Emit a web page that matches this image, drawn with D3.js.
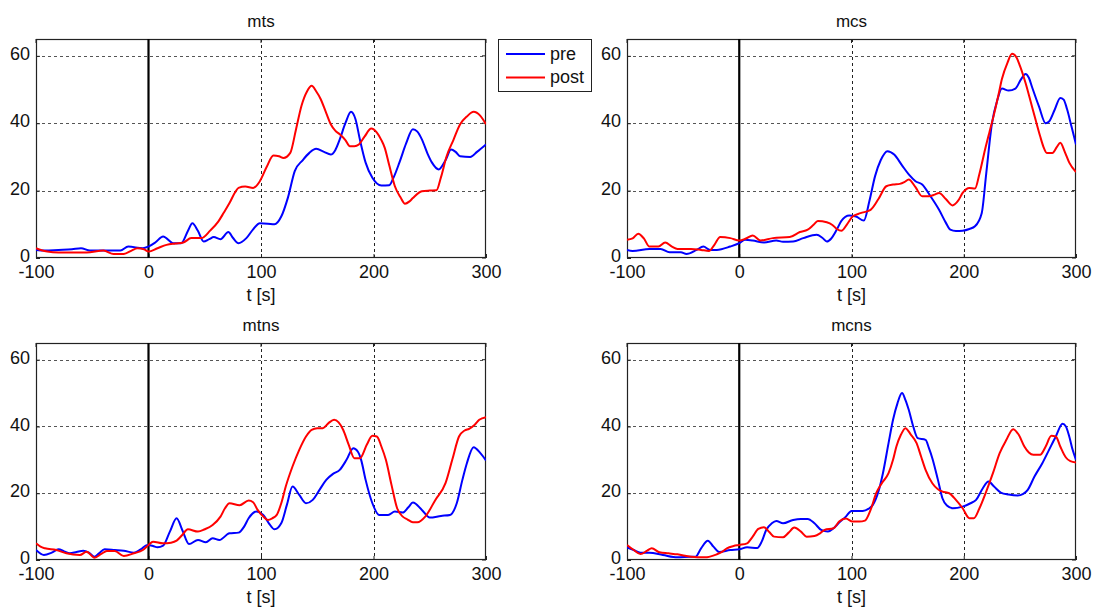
<!DOCTYPE html>
<html><head><meta charset="utf-8">
<script src="https://cdn.jsdelivr.net/npm/d3@7"></script>
<style>
body{margin:0;background:#fff;}
svg{display:block;font-family:"Liberation Sans",Arial,sans-serif;}
</style></head>
<body><svg id="c" width="1099" height="608"></svg>
<script>
// ---- data ----
const panelTitles = ["mts","mcs","mtns","mcns"];
const seriesNames = ["pre","post"];
const xTicks = [-100,0,100,200,300];
const yTicks = [0,20,40,60];
const xLabel = "t [s]";

const mtsPre = [[-100,2.4],[-92,2.2],[-80,2.4],[-68,2.6],[-60,2.9],[-52,2.2],[-40,2.2],[-25,2.2],[-18,3.4],[-5,2.9],[0,3.4],[6,4.6],[13,6.4],[22,4.4],[29,4.4],[35,8],[39,10.3],[44,8],[49,4.9],[54,5.6],[58,6.2],[64,5.6],[71,7.7],[75,6],[80,4.4],[87,5.9],[93,8.5],[99,10.3],[106,10.2],[112,10],[118,12.3],[124,18],[130,25.8],[137,29],[143,31.2],[149,32.4],[156,31.5],[162,30.7],[166,32],[170,35.2],[175,40],[180,43.4],[184,41.2],[188,35],[193,28.3],[199,23.8],[207,21.5],[214,21.6],[218,24],[223,28.3],[229,34],[235,38.2],[239,37.5],[243,35.2],[248,31],[252,28.3],[258,26.3],[264,29],[269,32.2],[273,31.5],[277,30.2],[286,30],[292,31.5],[300,33.7]];
const mtsPost = [[-100,2.9],[-95,2.3],[-90,1.9],[-80,1.6],[-65,1.6],[-55,1.6],[-40,2.2],[-31,1.2],[-22,1.2],[-15,2.2],[-10,2.9],[-4,2.6],[0,1.9],[8,2.9],[16,3.9],[24,4.3],[31,4.6],[38,5.9],[47,5.9],[55,8.2],[62,10.8],[67,13.5],[72,16.3],[77,19.5],[80,20.8],[86,21.2],[93,20.8],[99,22.8],[105,27],[111,30.4],[116,30.2],[120,29.7],[126,31.2],[131,38],[136,45.2],[141,49.5],[145,51.1],[149,49.5],[153,47.2],[158,43],[162,39.7],[166,37.8],[170,36.7],[175,35],[179,33.2],[183,33.2],[187,33.7],[192,36],[198,38.4],[203,37.2],[207,35],[210,32.7],[214,27.5],[219,21.3],[224,18],[228,16.1],[232,16.8],[235,17.8],[243,19.8],[250,20],[256,20.1],[260,24],[265,30.2],[271,35],[277,39.7],[283,42],[289,43.4],[295,42.2],[300,39.7]];
const mcsPre = [[-100,2.4],[-95,2.1],[-80,2.7],[-70,2.7],[-62,1.7],[-52,1.7],[-47,1.2],[-38,2.4],[-32,3.4],[-26,2.4],[-20,2.4],[-8,3.4],[0,4.4],[5,5.4],[12,5.2],[22,4.6],[33,5.2],[39,4.8],[48,4.9],[57,5.9],[69,6.9],[74,6],[78,4.9],[82,5.8],[87,8.5],[91,11],[98,12.6],[104,12.3],[111,11.1],[116,17],[121,24.3],[126,29],[132,31.7],[138,30.7],[145,27.5],[151,24.8],[157,22.8],[163,21.8],[170,18.5],[178,14.3],[184,10.5],[188,8.4],[193,8],[199,8.1],[205,8.6],[210,9.4],[216,13.3],[220,25],[225,39.7],[230,47],[234,50.3],[240,49.7],[246,50.3],[251,53],[255,54.6],[258,53.5],[261,50.6],[267,45],[273,40],[276,40.5],[281,44],[286,47.5],[289,47],[292,44.2],[296,39],[300,33.7]];
const mcsPost = [[-100,5.4],[-95,5.8],[-90,7.2],[-85,5.8],[-80,3.4],[-72,3.4],[-66,4.6],[-60,3.4],[-55,2.7],[-43,2.7],[-34,2.4],[-27,2.1],[-22,4],[-17,6.2],[-8,5.9],[0,5.2],[6,5.8],[12,6.7],[19,5.2],[30,5.9],[45,6.2],[54,7.7],[61,8.4],[66,9.8],[70,11],[78,10.6],[83,9.8],[87,8.6],[91,8.1],[96,10],[101,12.3],[108,13.3],[117,14.3],[124,17.5],[131,21.3],[137,21.8],[143,22],[147,22.5],[151,23.3],[157,21],[163,18.3],[169,18.3],[174,18.8],[178,19.3],[184,17.5],[190,15.6],[195,17],[199,19.3],[205,20.8],[210,20.6],[214,25],[219,32.2],[223,37.5],[227,42.7],[231,48.5],[234,53.1],[239,58],[243,60.6],[247,59.5],[250,57.1],[255,52],[259,47.2],[264,41],[268,36.2],[271,33],[274,31.2],[279,31.2],[283,33],[286,34.2],[290,31.5],[294,28.3],[300,25.5]];
const mtnsPre = [[-100,3],[-93,1.5],[-86,2.2],[-80,3.2],[-75,2.6],[-70,2],[-64,2.4],[-58,2.8],[-53,2.2],[-48,1],[-44,2],[-39,3.2],[-30,3],[-22,2.8],[-13,2.2],[-7,3.2],[-1,4.5],[4,4.2],[8,3.8],[13,4.3],[19,8.5],[25,12.5],[30,9],[36,4.8],[44,6],[51,5.3],[57,6.5],[63,6],[72,8],[80,8.2],[85,10],[89,12.5],[96,14.5],[102,13.5],[107,11],[112,9.2],[118,11],[123,16.5],[128,22],[134,19.5],[140,17],[146,18],[152,21],[158,24],[164,25.8],[170,27],[176,30],[182,33.5],[186,32.5],[189,30],[193,24],[199,17],[205,13.5],[213,13.5],[219,14.5],[226,14.2],[231,15.8],[235,17.2],[243,15],[250,12.7],[260,13.2],[268,13.5],[274,17],[279,24],[283,29],[289,33.8],[295,32],[300,29.8]];
const mtnsPost = [[-100,5],[-96,4],[-92,3.5],[-82,3],[-73,2],[-61,1.5],[-55,2.5],[-48,0.7],[-42,1.8],[-37,2.7],[-30,2.7],[-22,1.2],[-13,2],[-5,3],[0,4.5],[4,5.5],[13,5],[20,5.2],[25,5.8],[30,7.5],[35,9.2],[44,8.5],[50,9.2],[57,10.5],[64,13],[68,15.5],[72,17],[81,16.4],[89,17.8],[93,17.3],[97,15],[102,13],[106,12],[110,12.5],[114,13.5],[118,17],[122,22],[128,28],[134,33],[140,37],[145,39],[150,39.5],[155,39.5],[160,41],[165,42],[169,41.2],[173,39],[178,34.5],[183,30.5],[188,30.5],[194,34.5],[199,37.2],[203,37],[207,34],[211,30],[216,22.5],[221,15.5],[226,13],[230,12.2],[235,11.3],[239,11.3],[246,13],[255,18],[264,23],[270,30],[276,37],[281,38.8],[285,39.3],[290,40.5],[294,42],[300,42.8]];
const mcnsPre = [[-100,3.8],[-94,3],[-88,2.2],[-80,2.2],[-68,1.5],[-55,0.8],[-43,1],[-39,1],[-34,3.5],[-28,5.8],[-23,4],[-18,2.4],[-8,3],[0,3.2],[7,3.8],[16,3.6],[20,5.5],[24,9],[29,11],[33,11.7],[39,11],[48,12],[55,12.3],[61,12.3],[67,11],[73,9],[79,8.5],[84,9.5],[89,11.2],[95,13],[100,14.7],[110,14.7],[115,15.3],[119,16.5],[124,20.5],[128,26],[133,35],[137,42],[141,47],[145,50],[148,48],[151,45],[155,40],[159,36.5],[166,36],[169,33.5],[172,30.5],[177,24],[181,18.5],[185,16.3],[190,15.5],[199,16],[206,17],[211,18],[217,21.5],[222,23.5],[227,22],[233,20.2],[240,19.6],[248,19.3],[253,19.8],[257,21],[263,25],[270,29],[276,33],[282,37],[288,40.8],[291,40],[294,37],[297,33],[300,30]];
const mcnsPost = [[-100,4.5],[-94,3],[-88,1.8],[-82,2.8],[-78,3.5],[-71,2.3],[-63,2],[-55,1.7],[-43,1],[-31,0.8],[-20,1.7],[-15,2.5],[-11,3.5],[-5,4.2],[0,4.5],[7,5],[12,7],[17,9.3],[22,9.8],[27,8.3],[31,7],[39,6.8],[44,8.2],[49,9.7],[55,8.5],[60,7],[67,7.2],[72,8],[76,9],[84,9.5],[89,11.5],[95,12.4],[101,11.5],[107,11.5],[112,11.8],[117,15],[122,20],[127,23],[133,26],[137,30],[140,34],[144,37.5],[148,39.5],[153,37.5],[158,35],[162,31],[166,27],[172,23],[177,21.2],[181,20.5],[187,20],[193,18],[199,15.5],[205,12.5],[209,12.5],[214,15.5],[220,20.5],[226,26],[232,32],[238,36],[244,39.2],[249,37.5],[254,34],[258,32.2],[262,31.5],[268,31.5],[273,34],[278,37.2],[282,37],[286,34],[291,30.7],[295,29.6],[300,29.2]];

const panelData = [[mtsPre,mtsPost],[mcsPre,mcsPost],[mtnsPre,mtnsPost],[mcnsPre,mcnsPost]];
const seriesColors = ["#0000ff","#ff0000"];

// ---- layout ----
const svg = d3.select("#c");
const FONT = "'Liberation Sans',Arial,sans-serif";
const panels = [
  {x0:36, x1:486, y0:39, y1:258},
  {x0:627, x1:1076, y0:39, y1:258},
  {x0:36, x1:486, y0:343, y1:560},
  {x0:627, x1:1076, y0:343, y1:560}
];

panels.forEach((p,i)=>{
  const x = d3.scaleLinear().domain([-100,300]).range([p.x0,p.x1]);
  const y = d3.scaleLinear().domain([0,65]).range([p.y1,p.y0]);
  const g = svg.append("g");
  const clipId = "clip"+i;
  svg.append("clipPath").attr("id",clipId).append("rect")
    .attr("x",p.x0).attr("y",p.y0).attr("width",p.x1-p.x0).attr("height",p.y1-p.y0);

  // grid
  g.selectAll(".hg").data(yTicks.filter(t=>t>0)).join("line")
    .attr("x1",p.x0).attr("x2",p.x1).attr("y1",d=>Math.round(y(d))+0.5).attr("y2",d=>Math.round(y(d))+0.5)
    .attr("stroke","#555").attr("stroke-width",1).attr("stroke-dasharray","3,3");
  g.selectAll(".vg").data(xTicks.filter(t=>t>0 && t<300)).join("line")
    .attr("y1",p.y0).attr("y2",p.y1).attr("x1",d=>Math.round(x(d))+0.5).attr("x2",d=>Math.round(x(d))+0.5)
    .attr("stroke","#222").attr("stroke-width",1).attr("stroke-dasharray","3,3");

  // axes (inward ticks), plain hyphen minus like the reference
  const fmt = d => String(d);
  const ax = d3.axisBottom(x).tickValues(xTicks).tickSize(-4).tickFormat(fmt);
  const ay = d3.axisLeft(y).tickValues(yTicks).tickSize(-4).tickFormat(fmt);
  const gx = g.append("g").attr("transform",`translate(0,${p.y1})`).call(ax);
  const gy = g.append("g").attr("transform",`translate(${p.x0},0)`).call(ay);
  [gx,gy].forEach(a=>{
    a.select(".domain").remove();
    a.selectAll("line").attr("stroke","#222");
    a.selectAll("text").attr("fill","#111").style("font-size","18px").style("font-family",FONT);
  });
  gx.selectAll("text").attr("y",20).attr("dy",null);
  gy.selectAll("text").attr("x",-6).attr("dy","0.2em");
  // top/right ticks
  g.selectAll(".tt").data(xTicks).join("line")
    .attr("x1",d=>x(d)).attr("x2",d=>x(d)).attr("y1",p.y0).attr("y2",p.y0+4).attr("stroke","#222");
  g.selectAll(".rt").data(yTicks).join("line")
    .attr("y1",d=>y(d)).attr("y2",d=>y(d)).attr("x1",p.x1).attr("x2",p.x1-4).attr("stroke","#222");

  // box
  g.append("rect").attr("x",p.x0+0.5).attr("y",p.y0+0.5).attr("width",p.x1-p.x0-1).attr("height",p.y1-p.y0-1)
    .attr("fill","none").attr("stroke","#222").attr("stroke-width",1.2);

  // zero line
  g.append("line").attr("x1",x(0)).attr("x2",x(0)).attr("y1",p.y0).attr("y2",p.y1)
    .attr("stroke","#000").attr("stroke-width",2.2);

  // data lines
  const line = d3.line().x(d=>x(d[0])).y(d=>y(d[1])).curve(d3.curveMonotoneX);
  panelData[i].forEach((s,k)=>{
    g.append("path").datum(s).attr("d",line).attr("fill","none")
      .attr("stroke",seriesColors[k]).attr("stroke-width",2).attr("clip-path",`url(#${clipId})`);
  });

  // title
  g.append("text").attr("x",(p.x0+p.x1)/2).attr("y",p.y0-12).attr("text-anchor","middle")
    .style("font-size","17px").style("font-family",FONT).attr("fill","#111").text(panelTitles[i]);
  // x label
  g.append("text").attr("x",(p.x0+p.x1)/2).attr("y",p.y1+43).attr("text-anchor","middle")
    .style("font-size","18px").style("font-family",FONT).attr("fill","#111").text(xLabel);
});

// legend
const lg = svg.append("g");
lg.append("rect").attr("x",498.5).attr("y",39.5).attr("width",93).attr("height",52)
  .attr("fill","#fff").attr("stroke","#222").attr("stroke-width",1);
seriesNames.forEach((n,k)=>{
  const yy = 54 + k*23.5;
  lg.append("line").attr("x1",506).attr("x2",545).attr("y1",yy).attr("y2",yy)
    .attr("stroke",seriesColors[k]).attr("stroke-width",2);
  lg.append("text").attr("x",550).attr("y",yy+5.5).style("font-size","18px").style("font-family",FONT)
    .attr("fill","#111").text(n);
});
</script></body></html>
